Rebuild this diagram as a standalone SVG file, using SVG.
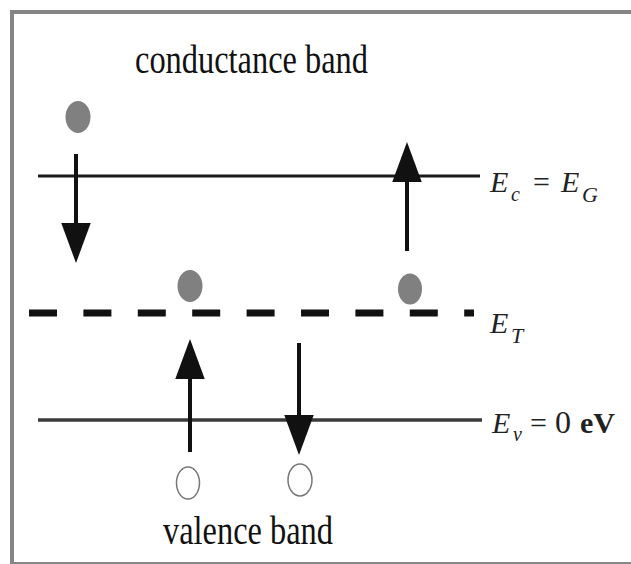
<svg xmlns="http://www.w3.org/2000/svg" width="631" height="564" viewBox="0 0 631 564">
<style>
.lbl{font-family:"Liberation Serif","Times New Roman",serif;font-size:39px;fill:#111}
.mi{font-family:"Liberation Serif","Times New Roman",serif;font-style:italic;fill:#222}
.up{font-family:"Liberation Serif","Times New Roman",serif;fill:#222}
.el{fill:#808080}
.hole{fill:#fff;stroke:#777;stroke-width:1.5}
.arr{stroke:#111;stroke-width:4;fill:none}
</style>
<defs>
<marker id="head" markerUnits="userSpaceOnUse" markerWidth="40" markerHeight="30" viewBox="0 0 38 28" refX="18" refY="14" orient="auto">
<path d="M0,0 L38,14 L0,28 z" fill="#111"/>
</marker>
</defs>
<rect width="631" height="564" fill="#fff"/>
<g id="frame" fill="none" stroke="#858585">
<path d="M12,12 H631" stroke-width="4"/>
<path d="M12,10 V564" stroke-width="4"/>
<path d="M12,563 H631" stroke-width="2"/>
</g>
<g id="levels">
<line id="Ec" x1="38" y1="176" x2="480" y2="176" stroke="#1a1a1a" stroke-width="3"/>
<line id="ET" x1="29" y1="313" x2="474" y2="313" stroke="#111" stroke-width="7" stroke-dasharray="28 26.4"/>
<line id="Ev" x1="38" y1="420" x2="482" y2="420" stroke="#3a3a3a" stroke-width="3.5"/>
</g>
<g id="conductance-band"><text class="lbl" x="135" y="73" textLength="233" lengthAdjust="spacingAndGlyphs">conductance  band</text></g>
<g id="valence-band"><text class="lbl" x="163" y="544" textLength="170" lengthAdjust="spacingAndGlyphs">valence  band</text></g>
<g id="electron-1"><ellipse class="el" cx="78" cy="117" rx="12.5" ry="16"/></g>
<g id="electron-2"><ellipse class="el" cx="190" cy="286" rx="12.5" ry="16"/></g>
<g id="electron-3"><ellipse class="el" cx="410" cy="289" rx="12" ry="15.5"/></g>
<g id="hole-1"><ellipse class="hole" cx="188" cy="483" rx="11.5" ry="16"/></g>
<g id="hole-2"><ellipse class="hole" cx="300" cy="480" rx="12" ry="16"/></g>
<g id="label-Ec">
<text class="mi" x="490" y="192" font-size="30">E</text>
<text class="mi" x="511" y="201" font-size="20">c</text>
<text class="up" x="533" y="192" font-size="30">=</text>
<text class="mi" x="561" y="192" font-size="30">E</text>
<text class="mi" x="582" y="202" font-size="22">G</text>
</g>
<g id="label-ET">
<text class="mi" x="490" y="333" font-size="30">E</text>
<text class="mi" x="511" y="343" font-size="22">T</text>
</g>
<g id="label-Ev">
<text class="mi" x="492" y="433" font-size="30">E</text>
<text class="mi" x="513" y="441" font-size="20">v</text>
<text class="up" x="530" y="433" font-size="30">=</text>
<text class="up" x="555" y="433" font-size="32">0</text>
<text class="up" x="580" y="433" font-size="30" font-weight="bold">eV</text>
</g>
<g id="connectors">
<line class="arr" x1="76" y1="154" x2="76" y2="242" marker-end="url(#head)"/>
<line class="arr" x1="407" y1="251" x2="407" y2="163" marker-end="url(#head)"/>
<line class="arr" x1="190" y1="452" x2="190" y2="360" marker-end="url(#head)"/>
<line class="arr" x1="299" y1="343" x2="299" y2="434" marker-end="url(#head)"/>
</g>
</svg>
